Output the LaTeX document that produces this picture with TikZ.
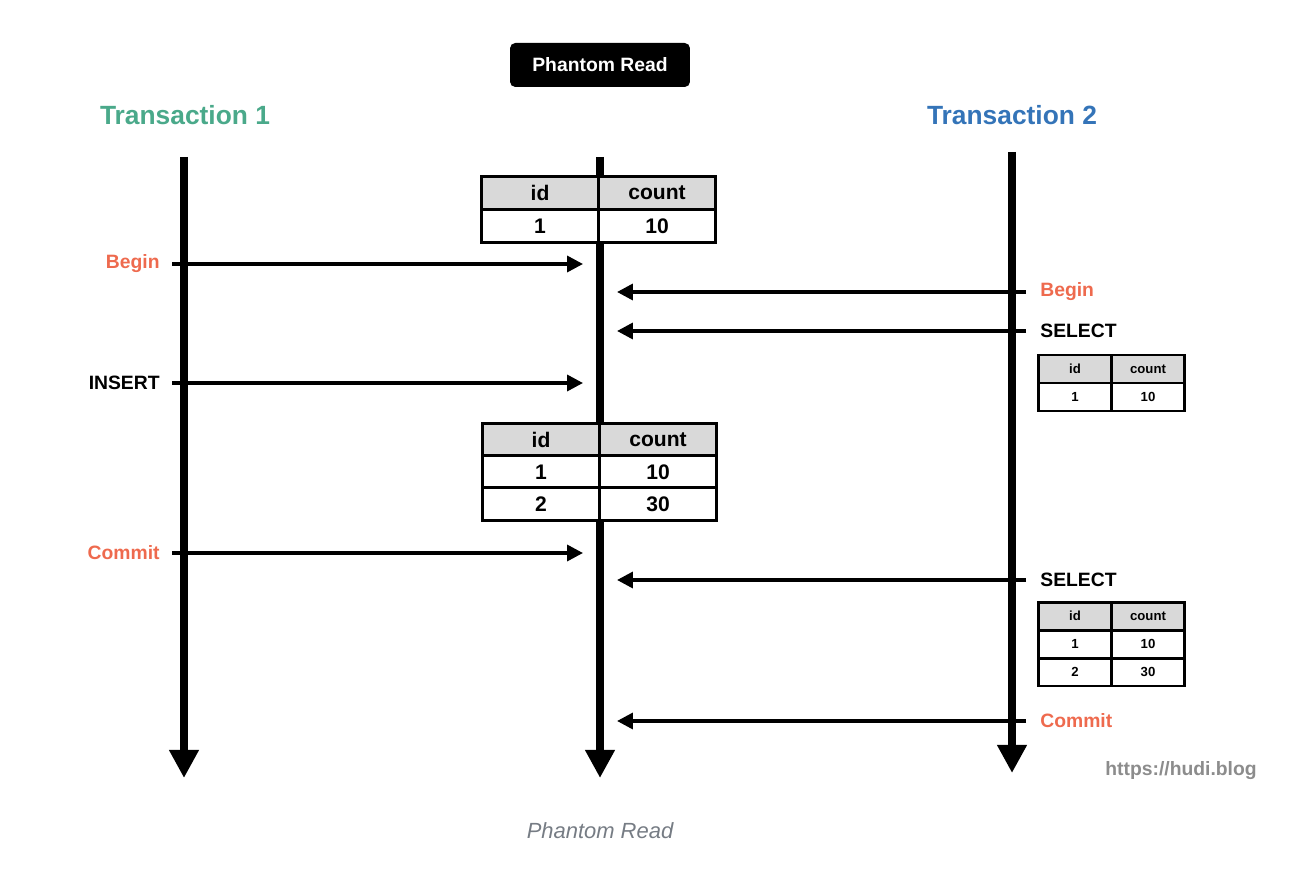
\documentclass[tikz,border=0pt]{standalone}
\usepackage{fontspec}
\setmainfont{Liberation Sans}
\usepackage{xcolor}
\usepackage{tikz}
\usetikzlibrary{positioning,arrows.meta}

\definecolor{tgreen}{RGB}{74,169,138}
\definecolor{tblue}{RGB}{52,116,184}
\definecolor{torange}{RGB}{238,106,78}
\definecolor{hgray}{RGB}{217,217,217}
\definecolor{urlgray}{RGB}{140,140,140}
\definecolor{capgray}{RGB}{118,124,132}

\begin{document}
\begin{tikzpicture}[
        x=0.02cm, y=-0.02cm,
        % Tiêu đề
        titlebox/.style={
            fill=black, 
            text=white, 
            rounded corners=3pt, 
            minimum width=3.6cm, 
            minimum height=0.88cm, 
            font=\bfseries\fontsize{11}{11}\selectfont
        },
        % Tên transaction
        txname/.style={
            font=\bfseries\fontsize{15}{15}\selectfont
        },
        % Đường đời (lifeline)
        lifeline/.style={
            line width=4.5pt, 
            -{Triangle[length=16pt,width=16pt]}
        },
        % Mũi tên thông điệp
        msg/.style={
            line width=2pt, 
            -{Triangle[length=9pt,width=9pt]}
        },
        % Nhãn bên trái / phải
        lbl/.style={
            font=\bfseries\fontsize{11}{11}\selectfont, 
            inner ysep=2pt
        },
        leftlbl/.style={lbl, anchor=east, inner xsep=0.24cm},
        rightlbl/.style={lbl, anchor=west, inner xsep=0.28cm},
        % Ô của bảng
        cell/.style={
            draw, 
            line width=1.7pt, 
            fill=white, 
            inner sep=0pt
        },
        bigcell/.style={
            cell, 
            minimum width=2.35cm, 
            minimum height=0.65cm, 
            font=\bfseries\fontsize{12}{12}\selectfont
        },
        smallcell/.style={
            cell, 
            minimum width=1.46cm, 
            minimum height=0.56cm, 
            font=\bfseries\fontsize{7.5}{7.5}\selectfont
        },
        head/.style={fill=hgray}
    ]

        \useasboundingbox (0,0) rectangle (1300,878);

        % --- TIÊU ĐỀ ---
        \node[titlebox] (title) at (600,65) {Phantom Read};
        \node[txname, text=tgreen] (tx1) at (185,115) {Transaction 1};
        \node[txname, text=tblue] (tx2) at (1012,115) {Transaction 2};

        % --- LIFELINES ---
        \coordinate (t1top) at (184,157);
        \coordinate (t1bot) at (184,778);
        \coordinate (dbtop) at (600,157);
        \coordinate (dbbot) at (600,778);
        \coordinate (t2top) at (1012,152);
        \coordinate (t2bot) at (1012,773);
        \draw[lifeline] (t1top) -- (t1bot);
        \draw[lifeline] (dbtop) -- (dbbot);
        \draw[lifeline] (t2top) -- (t2bot);

        % --- BẢNG 1 ---
        \node[bigcell, head] (a1h1) at (540,193) {id};
        \node[bigcell, head] (a1h2) at (657,193) {count};
        \node[bigcell] (a1r1) at (540,226) {1};
        \node[bigcell] (a1r2) at (657,226) {10};

        % --- BẢNG 2 ---
        \node[bigcell, head] (a2h1) at (541,440) {id};
        \node[bigcell, head] (a2h2) at (658,440) {count};
        \node[bigcell] (a2r1) at (541,472) {1};
        \node[bigcell] (a2r2) at (658,472) {10};
        \node[bigcell] (a2s1) at (541,504) {2};
        \node[bigcell] (a2s2) at (658,504) {30};

        % --- BẢNG KẾT QUẢ SELECT ---
        \node[smallcell, head] (b1h1) at (1075,369) {id};
        \node[smallcell, head] (b1h2) at (1148,369) {count};
        \node[smallcell] (b1r1) at (1075,397) {1};
        \node[smallcell] (b1r2) at (1148,397) {10};

        \node[smallcell, head] (b2h1) at (1075,616) {id};
        \node[smallcell, head] (b2h2) at (1148,616) {count};
        \node[smallcell] (b2r1) at (1075,644) {1};
        \node[smallcell] (b2r2) at (1148,644) {10};
        \node[smallcell] (b2s1) at (1075,672) {2};
        \node[smallcell] (b2s2) at (1148,672) {30};

        % --- NHÃN ---
        \node[leftlbl, text=torange] (l1) at (172,264) {Begin};
        \node[leftlbl] (l2) at (172,383) {INSERT};
        \node[leftlbl, text=torange] (l3) at (172,553) {Commit};
        \node[rightlbl, text=torange] (r1) at (1026,292) {Begin};
        \node[rightlbl] (r2) at (1026,331) {SELECT};
        \node[rightlbl] (r3) at (1026,580) {SELECT};
        \node[rightlbl, text=torange] (r4) at (1026,721) {Commit};

        % --- MŨI TÊN ---
        \coordinate (m1) at (583,264);
        \coordinate (m2) at (583,383);
        \coordinate (m3) at (583,553);
        \coordinate (n1) at (617,292);
        \coordinate (n2) at (617,331);
        \coordinate (n3) at (617,580);
        \coordinate (n4) at (617,721);
        \draw[msg] (l1.east) -- (m1);
        \draw[msg] (l2.east) -- (m2);
        \draw[msg] (l3.east) -- (m3);
        \draw[msg] (r1.west) -- (n1);
        \draw[msg] (r2.west) -- (n2);
        \draw[msg] (r3.west) -- (n3);
        \draw[msg] (r4.west) -- (n4);

        % --- CHÚ THÍCH ---
        \node[font=\bfseries\fontsize{11}{11}\selectfont, text=urlgray] (url) at (1181,771) {https://hudi.blog};
        \node[font=\itshape\fontsize{12.5}{12.5}\selectfont, text=capgray] (caption) at (600,831) {Phantom Read};

    \end{tikzpicture}
\end{document}
